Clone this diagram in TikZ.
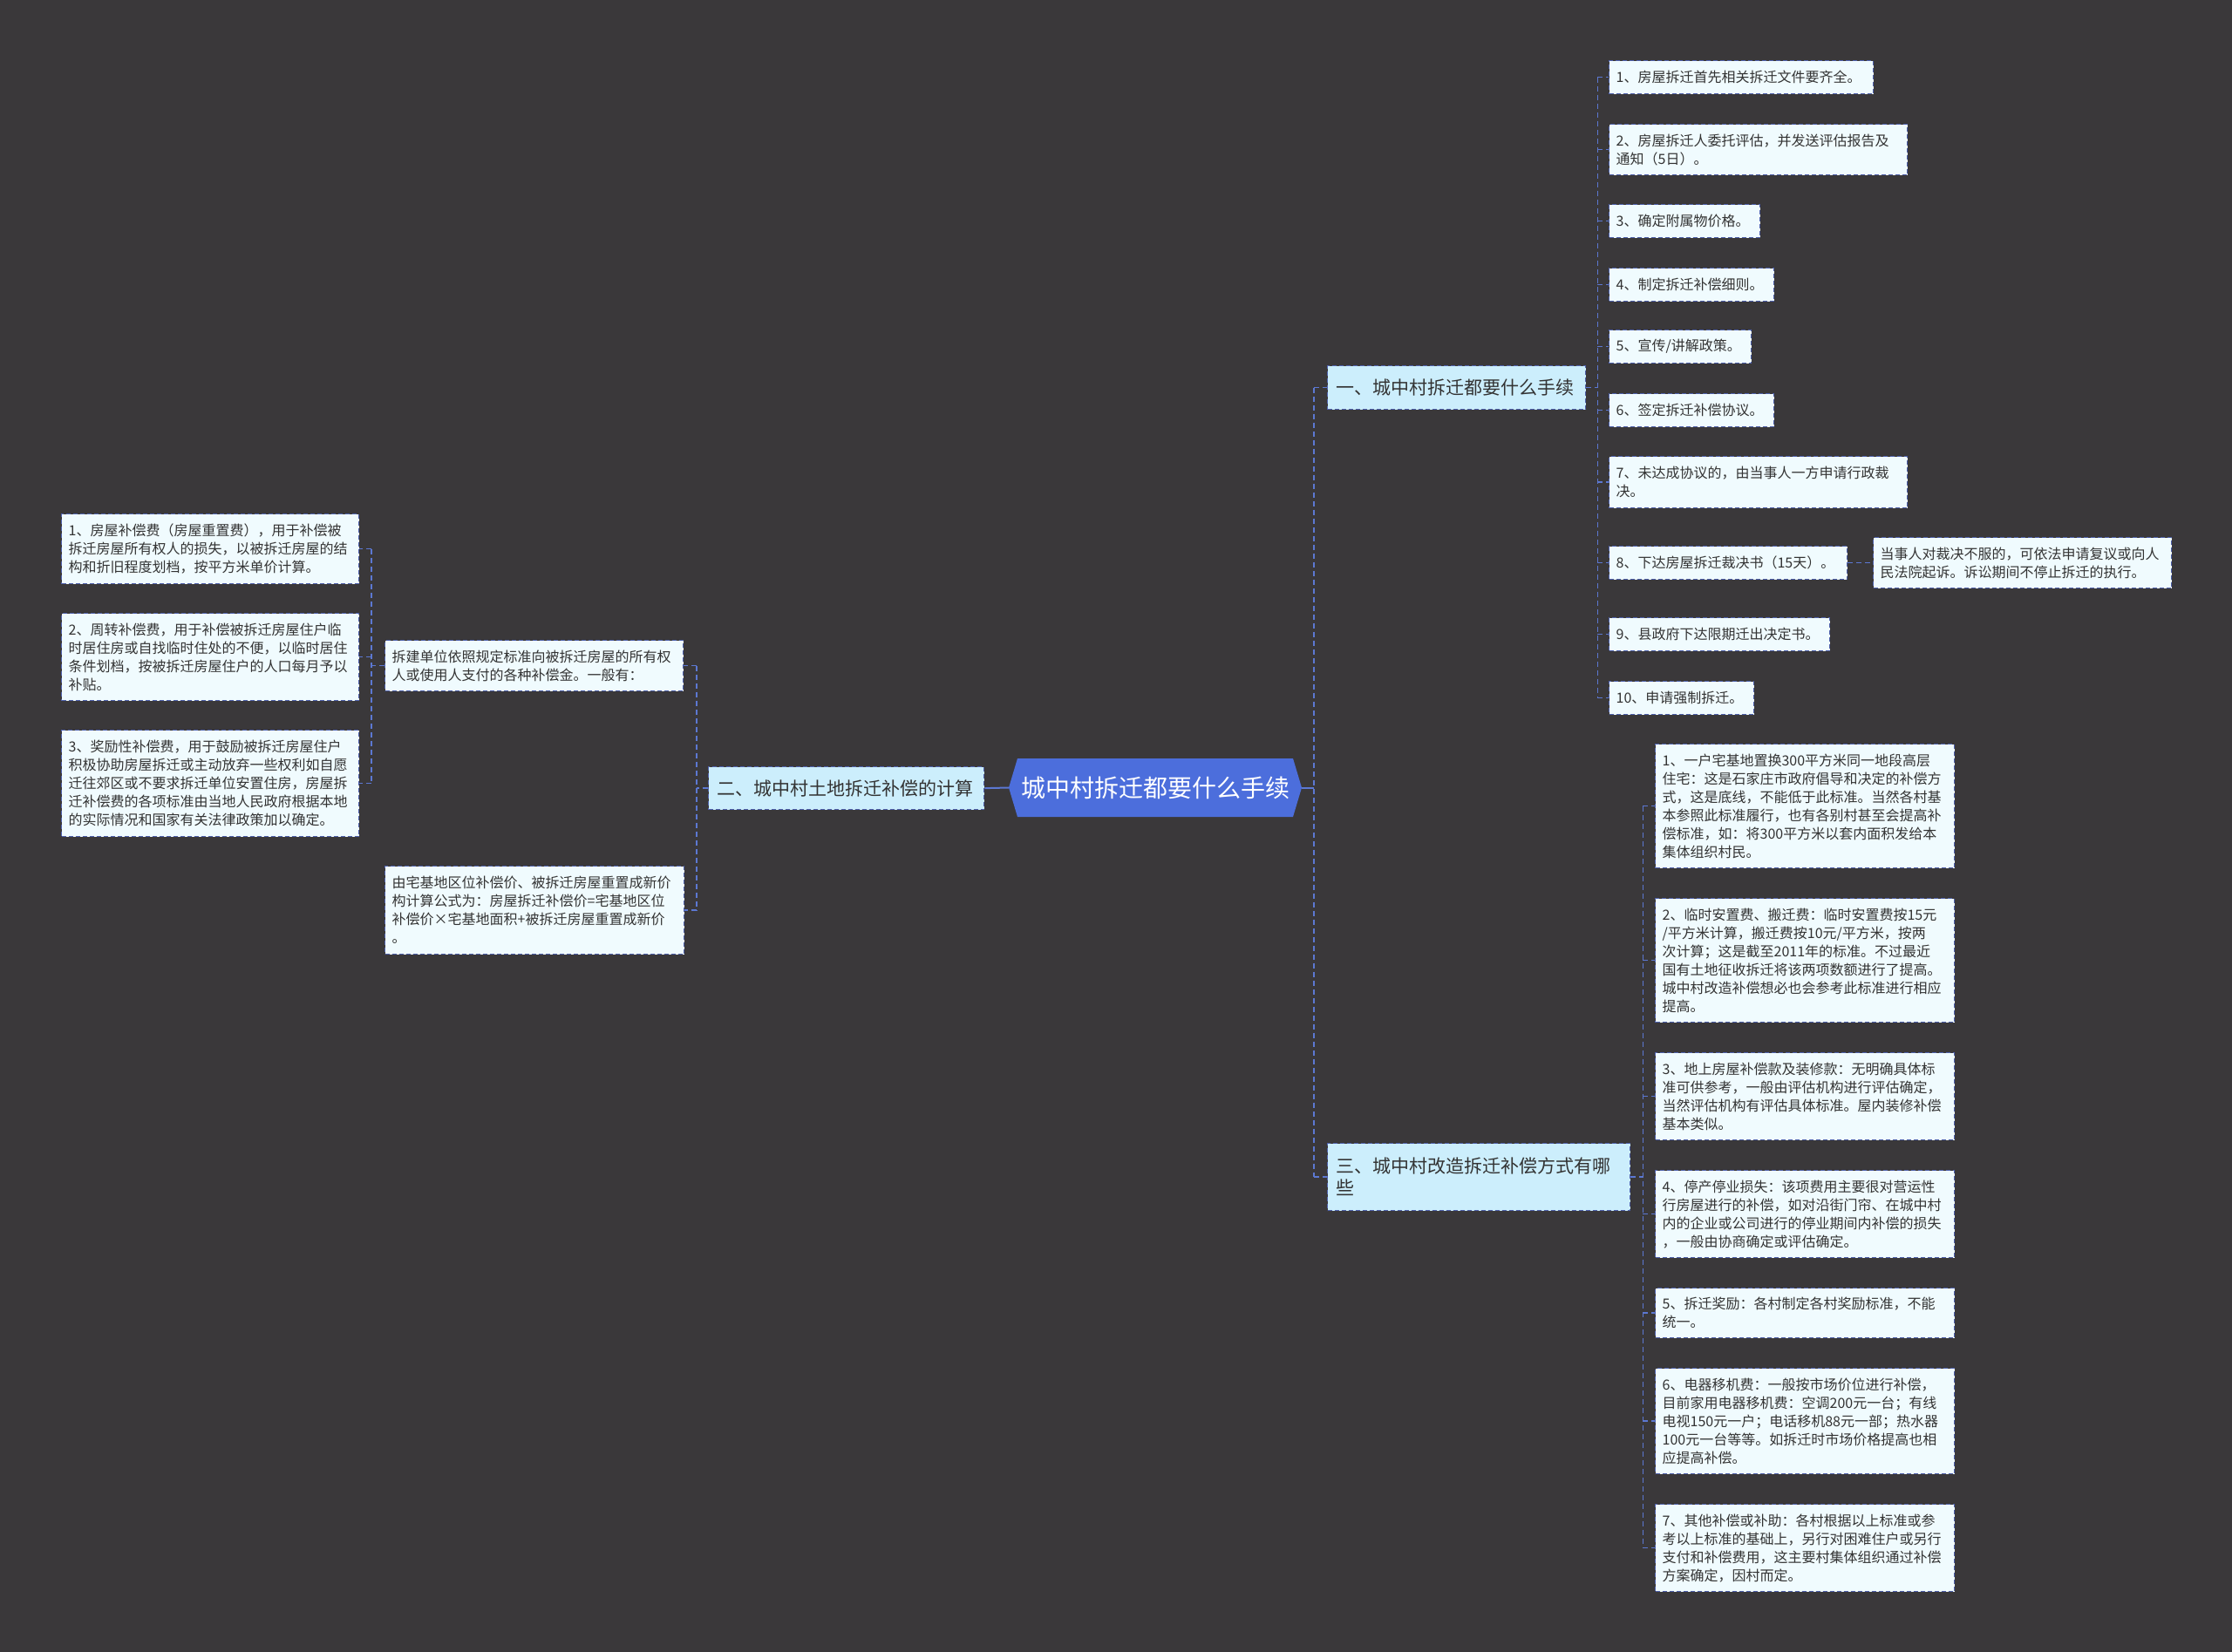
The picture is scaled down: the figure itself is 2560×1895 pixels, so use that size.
\documentclass[tikz,border=0pt]{standalone}
\usepackage{fontspec}
\newfontfamily\cjk{Noto Sans CJK SC}
\definecolor{bgcol}{RGB}{58,56,58}
\definecolor{boxline}{RGB}{78,96,170}
\definecolor{linecol}{RGB}{92,120,210}
\definecolor{leaffill}{RGB}{240,251,254}
\definecolor{midfill}{RGB}{204,238,252}
\definecolor{rootfill}{RGB}{76,110,220}
\definecolor{txt}{RGB}{51,51,51}
\tikzset{
  leaf/.style={draw=boxline, dash pattern=on 5pt off 3pt, line width=1.3pt, fill=leaffill, text=txt,
    font=\cjk\fontsize{16}{21}\selectfont, align=left, inner xsep=8pt, inner ysep=0pt, anchor=north west},
  midbox/.style={draw=boxline, dash pattern=on 5pt off 3pt, line width=1.3pt, fill=midfill, text=txt,
    font=\cjk\fontsize{21}{25}\selectfont, align=left, inner xsep=10pt, inner ysep=0pt, anchor=north west},
  rootbox/.style={text=white, font=\cjk\fontsize{28}{34}\selectfont, align=center, inner sep=0pt,
    minimum width=336pt, minimum height=67pt},
  conn/.style={draw=linecol, line width=1.6pt, dash pattern=on 6pt off 4pt},
  rootline/.style={draw=linecol, line width=2pt},
}
\begin{document}
\begin{tikzpicture}[x=1pt,y=-1pt]
\fill[bgcol] (0,0) rectangle (2560,1895);
\useasboundingbox (0,0) rectangle (2560,1895);

% root
\fill[rootfill] (1157,903.5) -- (1167,870) -- (1483,870) -- (1493,903.5) -- (1483,937) -- (1167,937) -- cycle;
\node[rootbox] (root) at (1325,903.5) {城中村拆迁都要什么手续};

% level 1
\node[midbox, text width=276pt, minimum height=50pt] (one) at (1522,419) {一、城中村拆迁都要什么手续};
\node[midbox, text width=296pt, minimum height=49pt] (two) at (812,879) {二、城中村土地拆迁补偿的计算};
\node[midbox, text width=327pt, minimum height=77pt] (three) at (1522,1311) {三、城中村改造拆迁补偿方式有哪\\些};

% children of one
\node[leaf, text width=287pt, minimum height=38pt] (b1) at (1845,69) {1、房屋拆迁首先相关拆迁文件要齐全。};
\node[leaf, text width=326pt, minimum height=58pt] (b2) at (1845,142) {2、房屋拆迁人委托评估，并发送评估报告及\\通知（5日）。};
\node[leaf, text width=157pt, minimum height=38pt] (b3) at (1845,234) {3、确定附属物价格。};
\node[leaf, text width=173pt, minimum height=38pt] (b4) at (1845,307) {4、制定拆迁补偿细则。};
\node[leaf, text width=147pt, minimum height=38pt] (b5) at (1845,378) {5、宣传/讲解政策。};
\node[leaf, text width=173pt, minimum height=38pt] (b6) at (1845,451) {6、签定拆迁补偿协议。};
\node[leaf, text width=326pt, minimum height=59pt] (b7) at (1845,523) {7、未达成协议的，由当事人一方申请行政裁\\决。};
\node[leaf, text width=257pt, minimum height=38pt] (b8) at (1845,626) {8、下达房屋拆迁裁决书（15天）。};
\node[leaf, text width=326pt, minimum height=58pt] (b8a) at (2148,616) {当事人对裁决不服的，可依法申请复议或向人\\民法院起诉。诉讼期间不停止拆迁的执行。};
\node[leaf, text width=237pt, minimum height=38pt] (b9) at (1845,708) {9、县政府下达限期迁出决定书。};
\node[leaf, text width=150pt, minimum height=38pt] (b10) at (1845,781) {10、申请强制拆迁。};

% children of two
\node[leaf, text width=326pt, minimum height=58pt] (m1) at (441,734) {拆建单位依照规定标准向被拆迁房屋的所有权\\人或使用人支付的各种补偿金。一般有：};
\node[leaf, text width=327pt, minimum height=101pt] (m2) at (441,993) {由宅基地区位补偿价、被拆迁房屋重置成新价\\构计算公式为：房屋拆迁补偿价=宅基地区位\\补偿价×宅基地面积+被拆迁房屋重置成新价\\。};
\node[leaf, text width=325pt, minimum height=80pt] (l1) at (70,589) {1、房屋补偿费（房屋重置费），用于补偿被\\拆迁房屋所有权人的损失，以被拆迁房屋的结\\构和折旧程度划档，按平方米单价计算。};
\node[leaf, text width=325pt, minimum height=100pt] (l2) at (70,703) {2、周转补偿费，用于补偿被拆迁房屋住户临\\时居住房或自找临时住处的不便，以临时居住\\条件划档，按被拆迁房屋住户的人口每月予以\\补贴。};
\node[leaf, text width=325pt, minimum height=122pt] (l3) at (70,837) {3、奖励性补偿费，用于鼓励被拆迁房屋住户\\积极协助房屋拆迁或主动放弃一些权利如自愿\\迁往郊区或不要求拆迁单位安置住房，房屋拆\\迁补偿费的各项标准由当地人民政府根据本地\\的实际情况和国家有关法律政策加以确定。};

% children of three
\node[leaf, text width=327pt, minimum height=142pt] (c1) at (1898,853) {1、一户宅基地置换300平方米同一地段高层\\住宅：这是石家庄市政府倡导和决定的补偿方\\式，这是底线，不能低于此标准。当然各村基\\本参照此标准履行，也有各别村甚至会提高补\\偿标准，如：将300平方米以套内面积发给本\\集体组织村民。};
\node[leaf, text width=327pt, minimum height=142pt] (c2) at (1898,1030) {2、临时安置费、搬迁费：临时安置费按15元\\/平方米计算，搬迁费按10元/平方米，按两\\次计算；这是截至2011年的标准。不过最近\\国有土地征收拆迁将该两项数额进行了提高。\\城中村改造补偿想必也会参考此标准进行相应\\提高。};
\node[leaf, text width=327pt, minimum height=100pt] (c3) at (1898,1207) {3、地上房屋补偿款及装修款：无明确具体标\\准可供参考，一般由评估机构进行评估确定，\\当然评估机构有评估具体标准。屋内装修补偿\\基本类似。};
\node[leaf, text width=327pt, minimum height=100pt] (c4) at (1898,1342) {4、停产停业损失：该项费用主要很对营运性\\行房屋进行的补偿，如对沿街门帘、在城中村\\内的企业或公司进行的停业期间内补偿的损失\\，一般由协商确定或评估确定。};
\node[leaf, text width=327pt, minimum height=57pt] (c5) at (1898,1477) {5、拆迁奖励：各村制定各村奖励标准，不能\\统一。};
\node[leaf, text width=327pt, minimum height=121pt] (c6) at (1898,1569) {6、电器移机费：一般按市场价位进行补偿，\\目前家用电器移机费：空调200元一台；有线\\电视150元一户；电话移机88元一部；热水器\\100元一台等等。如拆迁时市场价格提高也相\\应提高补偿。};
\node[leaf, text width=327pt, minimum height=100pt] (c7) at (1898,1725) {7、其他补偿或补助：各村根据以上标准或参\\考以上标准的基础上，另行对困难住户或另行\\支付和补偿费用，这主要村集体组织通过补偿\\方案确定，因村而定。};

% connectors: root right
\coordinate (rJ) at ([xshift=14pt]root.east);
\draw[rootline] (root.east) -- (rJ);
\draw[conn] (rJ |- one.west) -- (rJ |- three.west);
\draw[conn] (rJ |- one.west) -- (one.west);
\draw[conn] (rJ |- three.west) -- (three.west);

% root left
\draw[rootline] (root.west) -- (two.east);

% two
\coordinate (tJ) at ([xshift=-13pt]two.west);
\draw[conn] (two.west) -- (tJ);
\draw[conn] (tJ |- m1.east) -- (tJ |- m2.east);
\draw[conn] (tJ |- m1.east) -- (m1.east);
\draw[conn] (tJ |- m2.east) -- (m2.east);

% m1
\coordinate (mJ) at ([xshift=-15pt]m1.west);
\draw[conn] (m1.west) -- (mJ);
\draw[conn] (mJ |- l1.east) -- (mJ |- l3.east);
\foreach \n in {l1,l2,l3} \draw[conn] (mJ |- \n.east) -- (\n.east);

% one
\coordinate (oJ) at ([xshift=13pt]one.east);
\draw[conn] (one.east) -- (oJ);
\draw[conn] (oJ |- b1.west) -- (oJ |- b10.west);
\foreach \n in {b1,b2,b3,b4,b5,b6,b7,b8,b9,b10} \draw[conn] (oJ |- \n.west) -- (\n.west);
\draw[conn] (b8.east) -- (b8a.west);

% three
\coordinate (hJ) at ([xshift=14pt]three.east);
\draw[conn] (three.east) -- (hJ);
\draw[conn] (hJ |- c1.west) -- (hJ |- c7.west);
\foreach \n in {c1,c2,c3,c4,c5,c6,c7} \draw[conn] (hJ |- \n.west) -- (\n.west);
\end{tikzpicture}
\end{document}
